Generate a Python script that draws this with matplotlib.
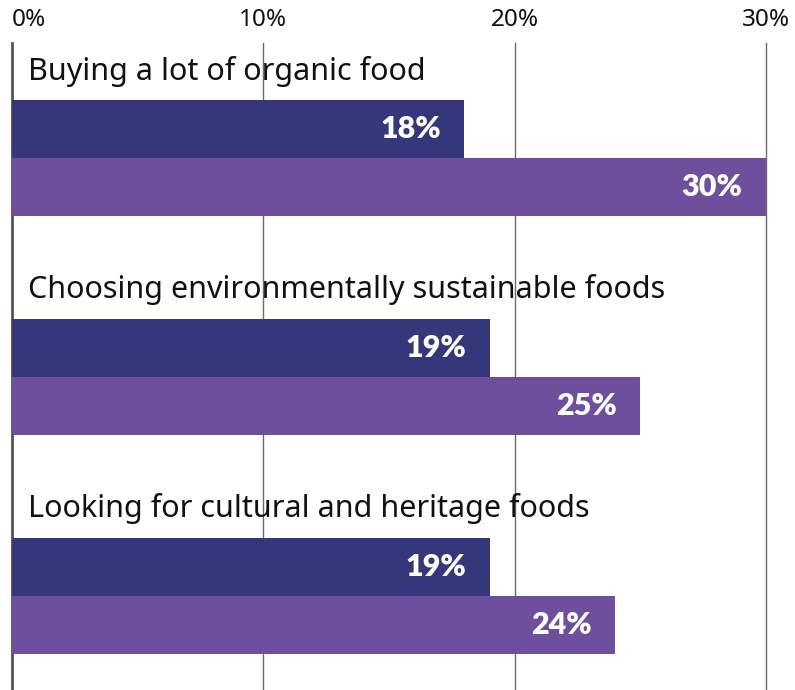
import matplotlib
matplotlib.use("Agg")
import matplotlib.pyplot as plt
import numpy as np

categories = [
    "Buying a lot of organic food",
    "Choosing environmentally sustainable foods",
    "Looking for cultural and heritage foods",
]
dark_values = [18, 19, 19]
light_values = [30, 25, 24]
tick_values = [0, 10, 20, 30]
tick_labels = ["0%", "10%", "20%", "30%"]

DARK = "#35377a"
LIGHT = "#6d4f9d"
GRID = "#6b6b6b"

plt.rcParams["font.family"] = ["Noto Sans", "DejaVu Sans"]
BOLD_FAMILY = ["Lato", "DejaVu Sans"]

fig = plt.figure(figsize=(7.95, 6.9), dpi=100)
ax = fig.add_axes([12 / 795, 0, (766 - 12) / 795, 647 / 690])

bar_h = 0.265
label_off = 0.265
y = np.arange(len(categories))

ax.barh(y, dark_values, height=bar_h, color=DARK, zorder=2)
ax.barh(y + bar_h, light_values, height=bar_h, color=LIGHT, zorder=2)

for yi, cat in zip(y, categories):
    ax.annotate(cat, (0, yi - label_off), xytext=(11.5, 0), textcoords="offset points",
                ha="left", va="center", fontsize=22, color="#111111", zorder=3)
for yi, v in zip(y, dark_values):
    ax.annotate(f"{v}%", (v, yi), xytext=(-17, 0), textcoords="offset points",
                ha="right", va="center", fontsize=22, fontweight="heavy",
                family=BOLD_FAMILY, color="white", zorder=3)
for yi, v in zip(y, light_values):
    ax.annotate(f"{v}%", (v, yi + bar_h), xytext=(-17, 0), textcoords="offset points",
                ha="right", va="center", fontsize=22, fontweight="heavy",
                family=BOLD_FAMILY, color="white", zorder=3)

for t in tick_values:
    ax.axvline(t, color=GRID if t else "#555555", lw=1.0 if t else 2.0, zorder=1, clip_on=False)

ax.set_xlim(0, 30)
ax.set_ylim(2.562, -0.393)
ax.set_yticks([])
ax.xaxis.tick_top()
ax.set_xticks(tick_values)
ax.set_xticklabels(tick_labels, fontsize=17.5, color="#111111")
ax.get_xticklabels()[0].set_ha("left")
ax.tick_params(axis="x", length=0, pad=8)
for s in ax.spines.values():
    s.set_visible(False)

fig.savefig("out.png", dpi=100)
